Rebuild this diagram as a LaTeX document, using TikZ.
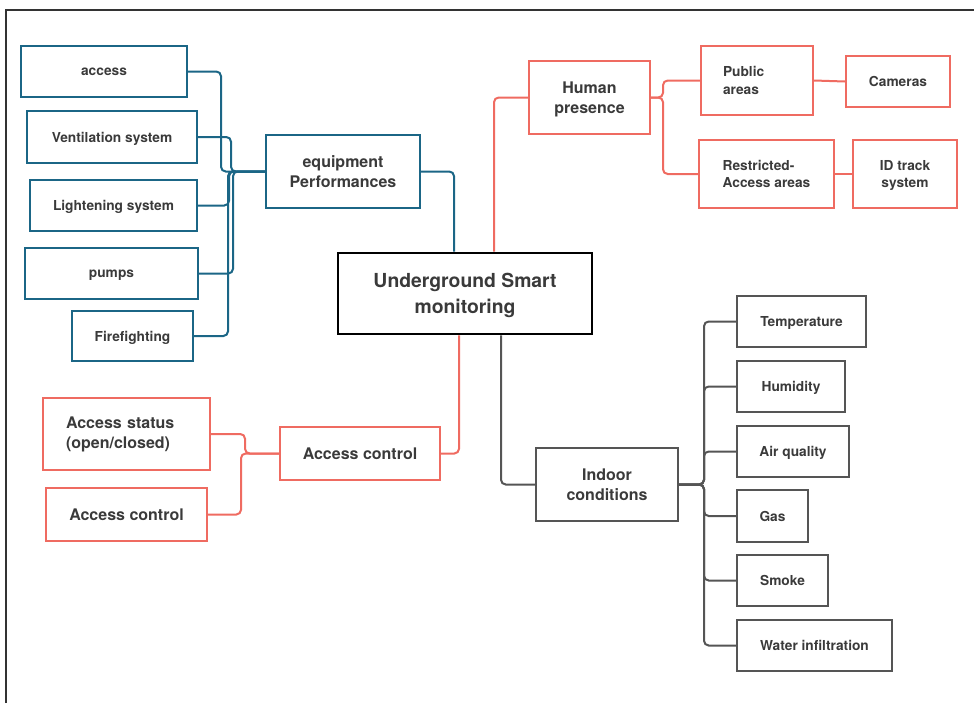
\documentclass[tikz,border=0pt]{standalone}
\usepackage{fontspec}
\setmainfont{TeX Gyre Heros}
\definecolor{mapblue}{HTML}{1B6686}
\definecolor{mapred}{HTML}{EF6B61}
\definecolor{mapgrey}{HTML}{555555}
\definecolor{maptext}{HTML}{3A3A3A}
\tikzset{
  sz/.style 2 args={minimum width=#1*0.75pt,minimum height=#2*0.75pt},
  box/.style={draw,line width=1.5pt,inner sep=0pt,align=center,text=maptext,
    text depth=-2pt,font=\bfseries\fontsize{10.3}{13.3}\selectfont},
  big/.style={font=\bfseries\fontsize{12}{15}\selectfont},
  bluebox/.style={box,draw=mapblue},
  redbox/.style={box,draw=mapred},
  greybox/.style={box,draw=mapgrey},
  mainbox/.style={box,draw=black,line width=2pt,
    font=\bfseries\fontsize{14.5}{19.3}\selectfont},
  link/.style={line width=1.5pt,rounded corners=3.5pt},
}
\begin{document}
\begin{tikzpicture}[x=0.75pt,y=-0.75pt]
\useasboundingbox (0,0) rectangle (974,703);
\draw[line width=1.5pt,black!80] (6,703) -- (6,10) -- (974,10);
% centre
\node[mainbox,sz={254}{81}] (main) at (465,293.5) {Underground Smart\\monitoring};
% equipment
\node[bluebox,big,sz={154}{73}] (equip) at (343,171.5) {equipment\\Performances};
\node[bluebox,sz={166}{51}] (access) at (104,71.5) {access};
\node[bluebox,sz={170}{52}] (vent) at (112,137) {Ventilation system};
\node[bluebox,sz={167}{51}] (light) at (113.5,205.5) {Lightening system};
\node[bluebox,sz={173}{51}] (pumps) at (111.5,273.5) {pumps};
\node[bluebox,sz={121}{50}] (fire) at (132.5,336) {Firefighting};
% human presence
\node[redbox,big,sz={121}{73}] (human) at (589.5,97.5) {Human\\presence};
\node[redbox,sz={112}{69},text width=51pt,text depth={},align=left] (public) at (757,80.5) {Public\\areas};
\node[redbox,sz={104}{51}] (cameras) at (898,81.5) {Cameras};
\node[redbox,sz={135}{68},align=left] (restricted) at (766.5,174) {Restricted-\\Access areas};
\node[redbox,sz={104}{68}] (idtrack) at (905,174) {ID track\\system};
% access control
\node[redbox,big,sz={160}{53}] (accmid) at (360,453.5) {Access control};
\node[redbox,big,sz={167}{72},text width=90.75pt,text depth={},align=left] (accstatus) at (126.5,434) {Access status\\(open/closed)};
\node[redbox,big,sz={161}{53}] (accleft) at (126.5,514.5) {Access control};
% indoor conditions
\node[greybox,big,sz={142}{73}] (indoor) at (607,484.5) {Indoor\\conditions};
\node[greybox,sz={129}{51}] (temp) at (801.5,321.5) {Temperature};
\node[greybox,sz={108}{51}] (humid) at (791,386.5) {Humidity};
\node[greybox,sz={112}{51}] (air) at (793,451.5) {Air quality};
\node[greybox,sz={71}{52}] (gas) at (772.5,516) {Gas};
\node[greybox,sz={91}{51}] (smoke) at (782.5,580.5) {Smoke};
\node[greybox,sz={155}{51}] (water) at (814.5,645.5) {Water infiltration};

% blue links
\draw[link,mapblue] (access.east) -- ++(33,0) |- (equip.west);
\draw[link,mapblue] (vent.east) -- ++(33,0) |- (equip.west);
\draw[link,mapblue] (light.east) -- ++(31,0) |- (equip.west);
\draw[link,mapblue] (pumps.east) -- ++(34,0) |- (equip.west);
\draw[link,mapblue] (fire.east) -- ++(34,0) |- (equip.west);
\draw[link,mapblue] (equip.east) -| ([xshift=-8.25pt]main.north);
% red links
\draw[link,mapred] ([xshift=21.75pt]main.north) |- (human.west);
\draw[link,mapred] (human.east) -- ++(12,0) |- (public.west);
\draw[link,mapred] (human.east) -- ++(12,0) |- (restricted.west);
\draw[link,mapred] (public.east) -- (cameras.west);
\draw[link,mapred] (restricted.east) -- (idtrack.west);
\draw[link,mapred] ([xshift=-4.5pt]main.south) |- (accmid.east);
\draw[link,mapred] (accstatus.east) -- ++(34,0) |- (accmid.west);
\draw[link,mapred] (accleft.east) -- ++(33,0) |- (accmid.west);
% grey links
\draw[link,mapgrey] ([xshift=27pt]main.south) |- (indoor.west);
\foreach \n in {temp,humid,air,gas,smoke,water}
  \draw[link,mapgrey] (indoor.east) -- ++(25,0) |- (\n.west);
\end{tikzpicture}
\end{document}
